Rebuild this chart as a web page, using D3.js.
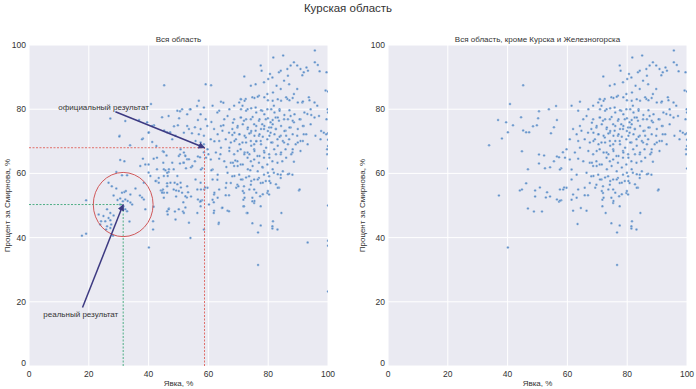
<!DOCTYPE html>
<html>
<head>
<meta charset="utf-8">
<script src="https://cdn.jsdelivr.net/npm/d3@7"></script>
<style>
  body { margin: 0; background: #fff; }
  text { font-family: "Liberation Sans", Arial, sans-serif; fill: #333; }
</style>
</head>
<body>
<div id="vis"></div>
<script>
// precincts outside Kursk and Zheleznogorsk: [turnout %, share for Smirnov %]
var regionPoints = [
  [45.2,87.5],[40.8,81.6],[50.5,79.4],[53.8,80],[56.2,81],[36.8,76.6],[39.5,75.9],[44.5,77.5],[41.8,75],[50.2,77.2],
  [56.5,76.6],[48.5,74.7],[49.8,75],[45.2,73.4],[46.2,72.8],[47.2,72.8],[55.5,74.4],[54.5,72.5],[40.1,72.8],[38.1,70.9],
  [33.8,68.8],[44.8,66.9],[50.5,65.9],[52.2,65.6],[56.5,65.3],[57.2,65],[58.5,66.6],[55.5,63.8],[50.5,63.1],[46.8,61.3],
  [52.5,61.6],[54.2,61.9],[57.9,61.6],[46.2,56.9],[44.1,54.7],[44.8,55],[49.2,54.7],[50.8,55.6],[53.2,54.1],[57.5,55],
  [58.9,55.6],[37.1,53.1],[49.2,52.8],[52.8,52.5],[54.2,52.8],[56.5,51.9],[57.2,51.2],[57.9,51.6],[46.8,49.1],[48.8,48.1],
  [51.5,48.1],[40.1,36.9],
  [81.7,96.1],[85,96.7],[95.6,98.3],[95.6,94.6],[96.6,93.8],[97.2,91.8],[99.5,91.5],[77.5,93.6],[77.8,92],[72,90.2],
  [80.6,91],[80,89.4],[74.2,87.3],[75.8,87.8],[78.6,88.4],[81.4,89.9],[83.6,91.5],[84.2,92],[86.4,92.5],[87.5,93.6],
  [88.6,94.6],[89.7,93.6],[90.8,92.5],[91.9,91.5],[92.8,93],[93.3,92],[91.4,90.6],[86.6,90.4],[85.3,88.9],[82.8,87.3],
  [84.2,86.3],[87,87.8],[79.7,84.7],[81.6,85.2],[76.9,84.2],[74.7,83.7],[72.5,83.2],[70.8,83.2],[70.3,82.1],[68.6,81.1],
  [71.4,81.1],[64.2,82.3],[61.4,81.1],[67,80],[73.1,80],[75.8,80.5],[78,79.5],[79.7,80],[81.9,81.1],[83.8,80],
  [86.4,83.2],[88.6,84.7],[89.7,86.3],[91.4,82.1],[93.6,83.7],[94.2,80],[96.4,81.1],[99.2,85.8],[97,77.9],[99.5,76.9],
  [63.6,79.5],[65.3,76.9],[66.4,77.9],[64.2,74.8],[68.6,76.9],[70.8,77.4],[71.9,76.4],[74.2,76.9],[75.3,75.3],[76.9,76.4],
  [78,75.3],[79.2,76.9],[80.8,75.9],[82.5,77.4],[83.6,76.4],[85.3,76.9],[87.5,77.9],[88.6,75.9],[90.8,76.9],[93.1,78.5],
  [91.9,74.8],[94.2,75.3],[61.9,73.8],[63.1,72.2],[64.7,73.3],[66.9,72.7],[68,73.8],[69.7,74.3],[70.3,72.2],[73.1,73.8],
  [74.2,72.7],[75.8,73.3],[76.9,71.7],[78.6,73.8],[80.3,74.3],[80.8,72.7],[82.5,73.8],[84.2,71.7],[85.8,73.3],[87.5,74.3],
  [89.7,71.7],[91.9,72.2],[95.8,71.7],[98.6,72.7],[60.8,70.6],[63.6,70.1],[65.8,70.6],[67.5,69.6],[69.2,70.6],[71.4,69.6],
  [72.5,71.2],[74.2,70.1],[75.3,69.1],[77.5,70.1],[79.7,70.6],[81.4,69.6],[83.1,70.6],[85.3,69.6],[87,70.6],[89.2,69.1],
  [90.8,70.1],[97.5,70.6],[59.7,67.5],[62.5,66.5],[64.2,68],[67,67],[68.6,66],[70.8,67.5],[73.1,66.5],[75.3,67.5],
  [76.4,65.4],[78.6,67],[80.3,66],[82,67.5],[84.2,66],[85.8,67.5],[88.1,66.5],[90.8,67],[99.7,67.5],[99.7,66],
  [59.2,64.9],[60.8,64.3],[63.6,64.6],[65.3,63.8],[67.5,63.3],[68.6,62.3],[69.7,63.8],[70.8,62.8],[73.1,64.9],[74.2,63.8],
  [75.3,64.3],[76.9,63.3],[78.6,64.9],[79.7,62.8],[81.4,63.8],[83.1,63.3],[84.7,63.8],[88.6,63.6],[61.4,61.2],[63.1,59.6],
  [66.4,60.2],[68,59.1],[70.3,59.6],[71.4,58.1],[73.6,59.1],[75.3,58.1],[76.9,58.6],[78.6,59.6],[80.3,59.1],[81.9,60.2],
  [84.2,59.6],[84.2,58.6],[87,59.9],[88.1,59.6],[57.5,61.2],[61.4,58.1],[63.6,55],[65.8,55.5],[67.5,57],[69.7,56.5],
  [71.9,56],[74.2,56.5],[75.3,55],[77.5,57],[79.2,57.6],[80.8,57],[83.6,55.5],[90.3,54.7],[59.7,55.5],[58.6,55],
  [61.9,53.4],[63.1,52.4],[65.8,53.2],[66.9,53.2],[71.9,53.9],[71.7,51.8],[74.7,52.4],[75.3,50.8],[77.3,52.9],[79.7,53.9],
  [80.3,53.4],[57.5,51.5],[61.4,51.8],[61.9,48.4],[64.5,49.2],[66.4,48.4],[71.7,49.8],[72.8,47.7],[77.5,49.8],[84.4,47.7],
  [63.4,44.2],[74.7,44.5],[77.5,43.8],[76.6,41.6],[81.6,45.1],[81.4,43.5],[81.4,42.8],[83.1,42.5],[76.6,31.5],
  [100,85.5],[100,79],[100,72.5],[100,70.5],[100,68.5],[100,61.5],
  // dense core, read at higher zoom
  [70.9,83.1],[72.1,82.6],[75.4,83.5],[76.5,83.9],[78.7,83.7],[79.9,82.8],[81.5,82.6],[83.2,83.1],[84.3,82.6],[86,83.7],
  [87.1,82.8],[88.2,83.5],[89.9,82.1],[91.6,82.4],[93.8,82.8],[95.5,82.1],
  [70.9,80],[72.6,79.5],[74.3,80.3],[76,79],[77.6,79.7],[78.7,78.4],[81,80],[82.1,79],[83.8,79.5],[85.4,78.2],
  [87.1,79.7],[88.8,78.4],[90.5,76.9],[92.1,79],[94.4,78.2],[95.5,77.4],[70.9,77.4],[72.6,76.9],[74.8,77.6],[77.1,76.9],
  [79.9,77.2],[81.5,76.6],[83.2,77.4],[86.6,76.9],[88.2,76.4],
  [68.2,75.8],[69.8,74.8],[71.5,75.3],[73.2,74.3],[74.3,73.2],[76,74.8],[77.6,73.8],[78.7,74.8],[79.9,73.2],[81,74.3],
  [81.5,75.3],[82.6,73.8],[84.3,74.8],[85.4,73.2],[87.1,74.3],[88.2,72.2],[89.9,73.8],[91.6,74.8],[92.7,72.2],[68.7,72.7],
  [70.4,72.2],[72.1,71.7],[73.7,72.4],[75.4,71.7],[77.1,72.2],[78.2,71.4],[80.4,71.7],[82.1,72.2],[83.8,71.4],[86,71.7],
  [97.7,73.2],[99.4,72.2],[99.9,80],
  [68.7,70.1],[70.4,69.1],[72.6,69.6],[74.3,68.6],[76,70.1],[77.6,69.1],[79.3,68],[81,69.6],[83.2,68.6],[84.9,70.1],
  [86.6,69.1],[88.2,67.5],[89.9,69.6],[69.8,67],[72.1,66.5],[73.7,66],[75.4,67],[77.1,65.4],[78.7,66.5],[80.4,64.9],
  [82.6,66],[84.3,66.5],[86,64.9],[87.7,66],[91.6,70.1],[93.2,69.1],
  [68.2,63.3],[69.8,62.3],[71.5,62.8],[73.2,61.3],[74.8,62.3],[76.5,60.7],[78.2,61.8],[79.9,60.2],[81.5,61.3],[83.2,59.7],
  [84.9,60.7],[86.6,59.7],[68.7,59.2],[70.9,58.1],[72.6,58.7],[74.3,57.6],[76.5,58.1],[78.2,57.1],[80.4,57.6],[82.6,56.6],
  [69.3,55.5],[71.5,54.5],[73.7,55],[76,54],[78.2,53.5],[72.1,52.4],[75.4,51.4],[79.9,54.5],[83.2,55.5],[90.5,55]
];

// extra precincts of Kursk and Zheleznogorsk (only in the left panel)
var cityPoints = [
  [30.3,71.7],[30.5,64.2],[31.9,63.8],[29.2,60.4],[31.1,59.4],[32.8,59.4],[26.6,57.1],[27.7,56],[29.2,55.3],[31.1,54],
  [31.9,54.2],[32.4,54.5],[33.9,53.4],[35.6,55.3],[38.4,57.1],[28.3,53.1],[29.6,51.7],[30.5,52.2],[31.4,51.3],[32.2,51.9],
  [33,51.4],[33.9,50.9],[34.5,50.3],[37.8,52.5],[38.4,51.9],[19.1,51.6],[30.5,50.3],[31.6,49.8],[31.1,48.8],[32.2,48.8],
  [32.8,48.2],[38.9,48.8],[41.7,49.6],[26.1,48.8],[27.2,47.7],[23.3,47.2],[24.9,46.7],[26.6,46.1],[28.3,46.9],[24.1,45.1],
  [25.5,45.1],[27.2,45.4],[23.8,44.1],[26.1,43.5],[27.5,44.1],[25.8,42.5],[27.2,43],[28.1,40.6],[33.6,45],[17.7,40.6],
  [19.1,41.2],[41.5,45.1],[41.5,42.5],[40,60.3],[40.6,59.2],[42.8,61.3],[42.6,57.6],[44.5,54.5],[45.1,54],[46.2,54],
  [46.7,48.8],[46.2,48.2],[50.1,48.8],[52.3,49.4],[45.6,61],[46.7,60.4],[46.4,59.2],[40,62.8],[44.9,63.3],[47.9,63.3],
  [50.1,65.4],[47.3,57.1],[48.7,57.1],[49.6,56.6],[50.1,54.5],[38.1,64.6],[37.8,70.6],[41.2,69.8],[40,72.7],[45.1,66.7],
  [46,65.6],[51.8,66.5],[52.3,65.4],[52.9,64.4],[51.6,63.3],[42.8,64.9],[43.4,58.6],[27.2,77.1],[32.2,76.3],[30.2,71.5],
  [41.2,74.8],[37.2,62.3],[38.9,62.8],[41.7,64.6],[45.1,61.3],[46.2,60.2],[42.6,68.5],[50.7,67.5],[47.9,70.6],[49,71.7],
  [46.7,77.9],[49.6,79.5],[51.2,80],[52.9,78.4],[54,80],[53.5,73.8],[52.9,74.8],[51.8,72.7],[56.8,82.6],[58.5,80.5],
  [57.4,78.4],[59.1,76.9],[59.6,74.8],[57.4,73.8],[56.8,72.2],[58.5,71.7],[59.1,87.8],[60.9,87.5],[57.4,69.6],[58.5,69.1],
  [55.7,70.1],[42.3,57.6],[43.4,57.1],[45.1,59.2],[48.4,61.3],[49.6,59.2],[51.8,63.3],[53.5,64.4],[54.6,62.3],[55.7,58.1],
  [57.4,57.1],[56.3,55],[50.7,57.1],[52.9,56],[51.2,54],[52.3,52.9],[48.4,55],[46.2,56],[44.5,54],[45.1,52.4],
  [46.4,47.2],[49,45.6],[51.6,51],[51.8,47.7],[53.5,44.6],[54,39.9],[56.3,47.7],[57.4,49.8],[57.4,51.3],[58.5,42.5],
  [60.2,50.3],[61.8,47.7],[63.5,44.6],[64.7,49.3],[61.8,51],[66.9,48.2],[71.9,49.8],[73.1,47.7],[74.7,51.3],[93.2,38.5],
  [100,39],[100,37.5],[100,23.2],[100,50],
  [62,70],[64,66],[66,62],[68,72],[63,58],[65,75],[67,68],[69,64],[61,61],[70,56],
  [72,66],[74,61],[76,70],[78,62],[62,54],[66,57],[60,66],[61,76],[63,79],[65,82]
];

var ticks = [0, 20, 40, 60, 80, 100];
var chartTitle = "Курская область";
var panelTitles = ["Вся область", "Вся область, кроме Курска и Железногорска"];
var xLabel = "Явка, %";
var yLabel = "Процент за Смирнова, %";

// annotation values: official and "real" result
var official = { turnout: 58.7, share: 68 };
var real = { turnout: 31.5, share: 50.3 };
var circleRadius = 10;
var officialText = { text: "официальный результат", x: 9.8, y: 79.8, from: [28.9, 79.2] };
var realText = { text: "реальный результат", x: 4.8, y: 15.3, from: [17.9, 18.2] };

var width = 696, height = 389;
var plotTop = 45, plotBottom = 366, panelW = 299;
var panelLeft = [29, 388];
var ylabelOffset = [22, 26];

var svg = d3.select("#vis").append("svg")
    .attr("width", width)
    .attr("height", height);

var defs = svg.append("defs");
defs.append("marker")
    .attr("id", "arrow")
    .attr("viewBox", "0 0 10 10")
    .attr("refX", 9).attr("refY", 5)
    .attr("markerWidth", 4.5).attr("markerHeight", 4.5)
    .attr("orient", "auto")
    .append("path")
    .attr("d", "M0,0 L10,5 L0,10 z")
    .attr("fill", "#3d3a82");

svg.append("text")
    .attr("x", 348).attr("y", 12)
    .attr("text-anchor", "middle")
    .style("font-size", "11.5px")
    .text(chartTitle);

function drawPanel(i, data) {
    var x = d3.scaleLinear().domain([0, 100]).range([panelLeft[i], panelLeft[i] + panelW]);
    var y = d3.scaleLinear().domain([0, 100]).range([plotBottom, plotTop]);

    var g = svg.append("g");

    defs.append("clipPath").attr("id", "clip" + i)
        .append("rect")
        .attr("x", panelLeft[i]).attr("y", plotTop)
        .attr("width", panelW).attr("height", plotBottom - plotTop);

    g.append("rect")
        .attr("x", panelLeft[i]).attr("y", plotTop)
        .attr("width", panelW).attr("height", plotBottom - plotTop)
        .attr("fill", "#eaeaf2");

    // grid
    g.selectAll(".gx").data(ticks).enter().append("line")
        .attr("x1", d => x(d)).attr("x2", d => x(d))
        .attr("y1", plotTop).attr("y2", plotBottom)
        .attr("stroke", "#fff").attr("stroke-width", 1);
    g.selectAll(".gy").data(ticks).enter().append("line")
        .attr("x1", panelLeft[i]).attr("x2", panelLeft[i] + panelW)
        .attr("y1", d => y(d)).attr("y2", d => y(d))
        .attr("stroke", "#fff").attr("stroke-width", 1);

    // tick labels
    g.selectAll(".tx").data(ticks).enter().append("text")
        .attr("x", d => x(d)).attr("y", plotBottom + 11)
        .attr("text-anchor", "middle")
        .style("font-size", "8.5px")
        .text(d => d);
    g.selectAll(".ty").data(ticks).enter().append("text")
        .attr("x", panelLeft[i] - 3).attr("y", d => d === 0 ? y(d) : y(d) + 3)
        .attr("text-anchor", "end")
        .style("font-size", "8.5px")
        .text(d => d);

    g.append("text")
        .attr("x", panelLeft[i] + panelW / 2).attr("y", 42)
        .attr("text-anchor", "middle")
        .style("font-size", "8px")
        .text(panelTitles[i]);

    g.append("text")
        .attr("x", panelLeft[i] + panelW / 2).attr("y", 386)
        .attr("text-anchor", "middle")
        .style("font-size", "8px")
        .text(xLabel);

    g.append("text")
        .attr("transform", "translate(" + (panelLeft[i] - ylabelOffset[i] + 3) + "," + (plotTop + plotBottom) / 2 + ") rotate(-90)")
        .attr("text-anchor", "middle")
        .style("font-size", "8px")
        .text(yLabel);

    g.append("g")
        .attr("clip-path", "url(#clip" + i + ")")
        .selectAll("circle")
        .data(data)
        .enter().append("circle")
        .attr("cx", d => x(d[0]))
        .attr("cy", d => y(d[1]))
        .attr("r", 1.25)
        .attr("fill", "#5186c4")
        .attr("fill-opacity", 0.9)
        .attr("stroke", "#e4eaf4")
        .attr("stroke-width", 0.35);

    return { x: x, y: y, g: g };
}

var leftPanel = drawPanel(0, regionPoints.concat(cityPoints));
drawPanel(1, regionPoints);

// annotations on the left panel
var x = leftPanel.x, y = leftPanel.y, g = leftPanel.g;

function dashed(x1, y1, x2, y2, color) {
    g.append("line")
        .attr("x1", x(x1)).attr("y1", y(y1))
        .attr("x2", x(x2)).attr("y2", y(y2))
        .attr("stroke", color).attr("stroke-width", 1)
        .attr("stroke-dasharray", "2,1.5");
}
dashed(0, official.share, official.turnout, official.share, "#e0706b");
dashed(official.turnout, 0, official.turnout, official.share, "#e0706b");
dashed(0, real.share, real.turnout, real.share, "#4fae86");
dashed(real.turnout, 0, real.turnout, real.share, "#4fae86");

g.append("ellipse")
    .attr("cx", x(real.turnout)).attr("cy", y(real.share))
    .attr("rx", x(circleRadius) - x(0)).attr("ry", y(0) - y(circleRadius))
    .attr("fill", "none")
    .attr("stroke", "#d0585a").attr("stroke-width", 1);

g.append("line")
    .attr("x1", x(officialText.from[0])).attr("y1", y(officialText.from[1]))
    .attr("x2", x(official.turnout)).attr("y2", y(official.share))
    .attr("stroke", "#3d3a82").attr("stroke-width", 1.5)
    .attr("marker-end", "url(#arrow)");
g.append("line")
    .attr("x1", x(realText.from[0])).attr("y1", y(realText.from[1]))
    .attr("x2", x(real.turnout)).attr("y2", y(real.share))
    .attr("stroke", "#3d3a82").attr("stroke-width", 1.5)
    .attr("marker-end", "url(#arrow)");

g.append("text")
    .attr("x", x(officialText.x)).attr("y", y(officialText.y))
    .style("font-size", "8px")
    .text(officialText.text);
g.append("text")
    .attr("x", x(realText.x)).attr("y", y(realText.y))
    .style("font-size", "8px")
    .text(realText.text);
</script>
</body>
</html>
